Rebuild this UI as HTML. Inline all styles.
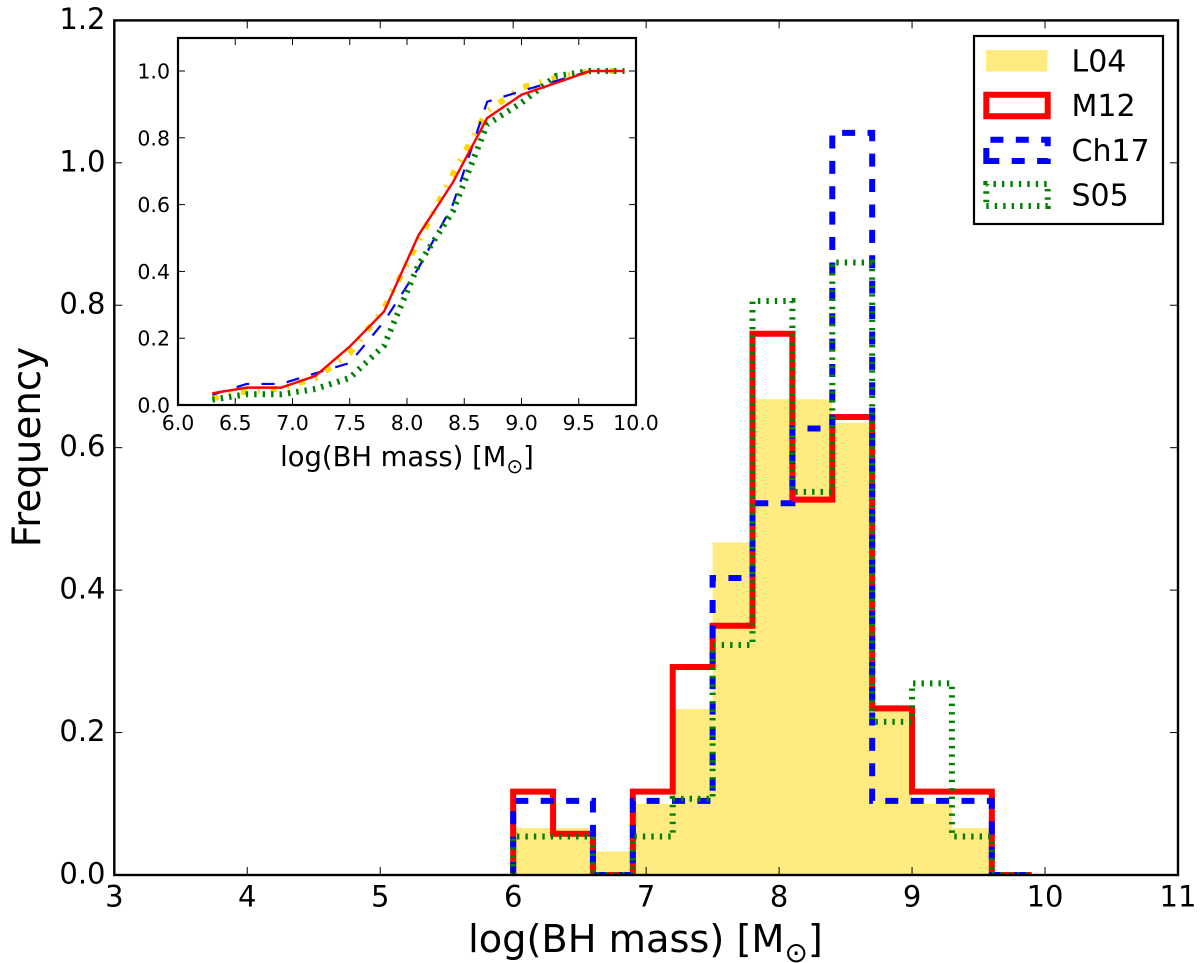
<!DOCTYPE html>
<html>
<head>
<meta charset="utf-8">
<title>BH mass histogram</title>
<style>
html,body{margin:0;padding:0;background:#fff;}
svg{display:block;font-family:"DejaVu Sans","Liberation Sans",sans-serif;}
</style>
</head>
<body>
<svg id="chart" width="1200" height="963" viewBox="0 0 1200 963" xmlns="http://www.w3.org/2000/svg">
<defs>
<clipPath id="main-clip"><rect x="114.3" y="20.4" width="1063.7" height="854.6"/></clipPath>
<clipPath id="inset-clip"><rect x="178" y="38" width="458" height="367"/></clipPath>
</defs>
<g id="main-marks" clip-path="url(#main-clip)"></g>
<rect x="114.3" y="20.4" width="1063.7" height="854.6" fill="none" stroke="#000" stroke-width="2.4"/>
<g id="main-ticks"></g>
<text x="645.5" y="952" font-size="38.3" text-anchor="middle">log(BH mass) [M<tspan font-size="28" dy="10">⊙</tspan><tspan dy="-10">]</tspan></text>
<text transform="translate(40,447) rotate(-90)" font-size="38.8" text-anchor="middle">Frequency</text>

<rect x="178" y="38" width="458" height="367" fill="#fff"/>
<g id="inset-marks" clip-path="url(#inset-clip)"></g>
<rect x="178" y="38" width="458" height="367" fill="none" stroke="#000" stroke-width="2.2"/>
<g id="inset-ticks"></g>
<text x="407" y="466" font-size="27.4" text-anchor="middle">log(BH mass) [M<tspan font-size="20" dy="7">⊙</tspan><tspan dy="-7">]</tspan></text>

<g>
<rect x="974" y="36" width="189" height="188" fill="#fff" stroke="#000" stroke-width="2.2"/>
<rect x="986" y="50" width="61.5" height="21.5" fill="#FFD700" fill-opacity="0.5"/>
<path d="M986.3 116.3H1047.7V94.7H986.3Z" fill="none" stroke="#f00" stroke-width="6"/>
<path d="M986.3 161H1047.7V139.7H986.3Z" fill="none" stroke="#00f" stroke-width="6" stroke-dasharray="13 12.4"/>
<path d="M986.3 206H1047.7V184H986.3Z" fill="none" stroke="#008000" stroke-width="6" stroke-dasharray="2.4 6.05"/>
<text x="1071.5" y="71.5" font-size="30">L04</text>
<text x="1071.5" y="116" font-size="30">M12</text>
<text x="1071.5" y="161" font-size="30">Ch17</text>
<text x="1071.5" y="205.7" font-size="30">S05</text>
</g>
</svg>
<script>
// Histogram data
const binEdges = [6.0, 6.3, 6.6, 6.9, 7.2, 7.5, 7.8, 8.1, 8.4, 8.7, 9.0, 9.3, 9.6, 9.9];
const histL04 = [0.066, 0.066, 0.033, 0.1, 0.233, 0.467, 0.668, 0.668, 0.635, 0.233, 0.1, 0.066, 0];
const histM12 = [0.117, 0.058, 0, 0.117, 0.292, 0.35, 0.76, 0.527, 0.643, 0.234, 0.117, 0.117, 0];
const histCh17 = [0.104, 0.104, 0, 0.104, 0.104, 0.417, 0.522, 0.627, 1.042, 0.104, 0.104, 0.104, 0];
const histS05 = [0.054, 0.054, 0, 0.054, 0.107, 0.323, 0.806, 0.538, 0.860, 0.215, 0.269, 0.054, 0];
// Inset cumulative data
const cumX = [6.3, 6.6, 6.9, 7.2, 7.5, 7.8, 8.1, 8.4, 8.7, 9.0, 9.3, 9.6, 9.9];
const cumL04 = [0.02, 0.04, 0.05, 0.08, 0.155, 0.29, 0.49, 0.69, 0.88, 0.95, 0.98, 1, 1];
const cumM12 = [0.035, 0.052, 0.052, 0.087, 0.175, 0.28, 0.508, 0.666, 0.859, 0.929, 0.964, 1, 1];
const cumCh17 = [0.031, 0.063, 0.063, 0.095, 0.126, 0.25, 0.41, 0.6, 0.908, 0.94, 0.97, 1, 1];
const cumS05 = [0.016, 0.032, 0.032, 0.048, 0.081, 0.178, 0.42, 0.58, 0.84, 0.905, 0.985, 1, 1];
// Tick labels
const mainXTicks = ['3', '4', '5', '6', '7', '8', '9', '10', '11'];
const mainYTicks = ['0.0', '0.2', '0.4', '0.6', '0.8', '1.0', '1.2'];
const insetXTicks = ['6.0', '6.5', '7.0', '7.5', '8.0', '8.5', '9.0', '9.5', '10.0'];
const insetYTicks = ['0.0', '0.2', '0.4', '0.6', '0.8', '1.0'];

const NS = 'http://www.w3.org/2000/svg';
function xMain(v) { return 114.3 + (v - 3) * 132.96; }
function yMain(v) { return 875 - v * 712.2; }
function xInset(v) { return 178 + (v - 6) * 114.5; }
function yInset(v) { return 405 - v * 334; }

const mainMarks = document.getElementById('main-marks');
const insetMarks = document.getElementById('inset-marks');
const mainTicks = document.getElementById('main-ticks');
const insetTicks = document.getElementById('inset-ticks');

function make(tag, parent, props) {
  const el = document.createElementNS(NS, tag);
  Object.keys(props).forEach(function (k) { el.setAttribute(k, props[k]); });
  parent.appendChild(el);
  return el;
}

histL04.forEach(function (v, i) {
  const bar = make('rect', mainMarks, {
    x: xMain(binEdges[i]), y: yMain(v),
    width: xMain(binEdges[i + 1]) - xMain(binEdges[i]),
    height: yMain(0) - yMain(v),
    fill: '#FFD700', 'fill-opacity': 0.5
  });
  
  
});

function stepPath(values) {
  let d = 'M' + xMain(binEdges[0]) + ' ' + yMain(0);
  values.forEach(function (v, i) {
    d += 'L' + xMain(binEdges[i]) + ' ' + yMain(v);
    d += 'L' + xMain(binEdges[i + 1]) + ' ' + yMain(v);
  });
  d += 'L' + xMain(binEdges[binEdges.length - 1]) + ' ' + yMain(0);
  return d;
}

const stepM12 = make('path', mainMarks, { d: stepPath(histM12), fill: 'none', stroke: '#f00', 'stroke-width': 6, 'stroke-linejoin': 'miter' });


const stepCh17 = make('path', mainMarks, { d: stepPath(histCh17), fill: 'none', stroke: '#00f', 'stroke-width': 6, 'stroke-dasharray': '13 12.4' });


const stepS05 = make('path', mainMarks, { d: stepPath(histS05), fill: 'none', stroke: '#008000', 'stroke-width': 6, 'stroke-dasharray': '2.4 6.05' });



function linePath(values) {
  return values.map(function (v, i) {
    return (i ? 'L' : 'M') + xInset(cumX[i]) + ' ' + yInset(v);
  }).join('');
}

const lineL04 = make('path', insetMarks, { d: linePath(cumL04), fill: 'none', stroke: '#FFD700', 'stroke-width': 6, 'stroke-dasharray': '6.3 10.5 2.1 10.5' });


const lineCh17 = make('path', insetMarks, { d: linePath(cumCh17), fill: 'none', stroke: '#00f', 'stroke-width': 2.2, 'stroke-dasharray': '13 12.4' });


const lineS05 = make('path', insetMarks, { d: linePath(cumS05), fill: 'none', stroke: '#008000', 'stroke-width': 6, 'stroke-dasharray': '2.4 6.05' });


const lineM12 = make('path', insetMarks, { d: linePath(cumM12), fill: 'none', stroke: '#f00', 'stroke-width': 2.4 });



function tickLine(parent, x1, y1, x2, y2) {
  const t = make('line', parent, { x1: x1, y1: y1, x2: x2, y2: y2, stroke: '#000', 'stroke-width': 1 });
  
  
}

mainXTicks.forEach(function (label) {
  const x = xMain(Number(label));
  tickLine(mainTicks, x, 875, x, 867);
  tickLine(mainTicks, x, 20.4, x, 28.4);
  const t = make('text', mainTicks, { x: x, y: 906.5, 'font-size': 29, 'text-anchor': 'middle' });
  t.textContent = label;
  
  
});
mainYTicks.forEach(function (label) {
  const y = yMain(Number(label));
  tickLine(mainTicks, 114.3, y, 122.3, y);
  tickLine(mainTicks, 1178, y, 1170, y);
  const t = make('text', mainTicks, { x: 105.5, y: y + 8.5, 'font-size': 29, 'text-anchor': 'end' });
  t.textContent = label;
  
  
});
insetXTicks.forEach(function (label) {
  const x = xInset(Number(label));
  tickLine(insetTicks, x, 405, x, 398);
  tickLine(insetTicks, x, 38, x, 45);
  const t = make('text', insetTicks, { x: x, y: 430, 'font-size': 20.5, 'text-anchor': 'middle' });
  t.textContent = label;
  
  
});
insetYTicks.forEach(function (label) {
  const y = yInset(Number(label));
  tickLine(insetTicks, 178, y, 185, y);
  tickLine(insetTicks, 636, y, 629, y);
  const t = make('text', insetTicks, { x: 170, y: y + 7.5, 'font-size': 20.5, 'text-anchor': 'end' });
  t.textContent = label;
  
  
});
</script>
</body>
</html>
